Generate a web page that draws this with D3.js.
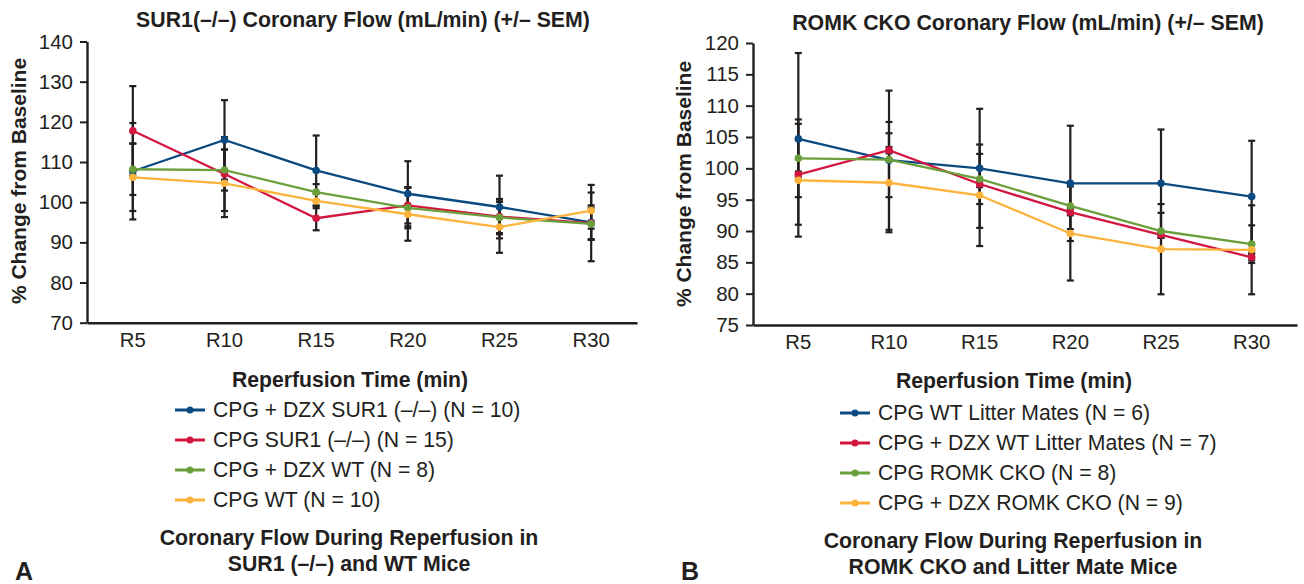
<!DOCTYPE html>
<html lang="en">
<head>
<meta charset="UTF-8">
<script src="https://cdn.jsdelivr.net/npm/d3@7/dist/d3.min.js"></script>
<title>coronary flow during reperfusion</title>
<style>
    body { margin: 0; background: #fff; }
    svg text { font-family: "Liberation Sans", Arial, sans-serif; fill: #231f20; }
    .domain { stroke: #231f20; stroke-width: 2.4px; }
    .tick line { stroke: #231f20; stroke-width: 2px; }
    .bold { font-weight: bold; }
</style>
</head>
<body>
<svg id="chart" width="1304" height="584"></svg>
<script>
// time points
const times = ["R5", "R10", "R15", "R20", "R25", "R30"];

// panel A: SUR1 (-/-) vs WT, % change from baseline and SEM
const sur1DzxKo = [107.7, 115.5, 107.9, 102.1, 98.8, 95.0];
const sur1DzxKoSem = [12.0, 9.9, 8.7, 8.1, 7.8, 4.2];
const sur1Ko = [117.8, 107.0, 96.0, 99.2, 96.4, 94.8];
const sur1KoSem = [11.1, 9.2, 3.0, 4.5, 4.4, 9.5];
const sur1DzxWt = [108.2, 108.0, 102.5, 98.6, 96.2, 94.6];
const sur1DzxWtSem = [6.4, 5.1, 2.0, 5.1, 3.9, 4.0];
const sur1Wt = [106.2, 104.7, 100.3, 97.0, 93.8, 97.9];
const sur1WtSem = [8.4, 8.4, 1.8, 6.6, 6.4, 4.5];
const sur1Names = ["CPG + DZX SUR1 (\u2013/\u2013) (N = 10)", "CPG SUR1 (\u2013/\u2013) (N = 15)",
    "CPG + DZX WT (N = 8)", "CPG WT (N = 10)"];
const sur1Ticks = [70, 80, 90, 100, 110, 120, 130, 140];

// panel B: ROMK CKO vs litter mates
const romkWt = [104.7, 101.3, 100.0, 97.6, 97.6, 95.5];
const romkWtSem = [13.7, 11.1, 9.5, 9.2, 8.6, 8.9];
const romkDzxWt = [99.0, 102.9, 97.5, 93.0, 89.4, 85.8];
const romkDzxWtSem = [0.5, 0.5, 0.5, 0.5, 0.5, 0.5];
const romkKo = [101.6, 101.4, 98.3, 94.0, 90.0, 87.9];
const romkKoSem = [6.2, 6.0, 4.0, 3.7, 2.9, 3.0];
const romkDzxKo = [98.1, 97.7, 95.7, 89.6, 87.1, 87.0];
const romkDzxKoSem = [9.0, 7.9, 8.1, 7.5, 7.2, 7.1];
const romkNames = ["CPG WT Litter Mates (N = 6)", "CPG + DZX WT Litter Mates (N = 7)",
    "CPG ROMK CKO (N = 8)", "CPG + DZX ROMK CKO (N = 9)"];
const romkTicks = [75, 80, 85, 90, 95, 100, 105, 110, 115, 120];

const colors = ["#0a4a80", "#d3163f", "#6b9f3c", "#fbb33d"];

const svg = d3.select("#chart");

function drawPanel(p) {
    const g = svg.append("g");
    const x = d3.scaleBand().domain(times).range([p.left, p.right]);
    const y = d3.scaleLinear().domain(d3.extent(p.ticks)).range([p.bottom, p.top]);
    const cx = d => x(d) + x.bandwidth() / 2;

    // axes
    g.append("g")
        .attr("transform", "translate(" + p.left + ",0)")
        .call(d3.axisLeft(y).tickValues(p.ticks).tickSize(7).tickSizeOuter(0).tickPadding(7))
        .call(a => a.selectAll("text").style("font-size", "20.5px"));
    g.append("g")
        .attr("transform", "translate(0," + p.bottom + ")")
        .call(d3.axisBottom(x).tickSize(0).tickPadding(10))
        .call(a => a.selectAll("text").style("font-size", "20.3px"));
    g.selectAll(".tick text").attr("fill", "#231f20");

    const series = p.values.map((v, i) => ({
        name: p.names[i], color: colors[i],
        pts: v.map((val, j) => ({t: times[j], v: val, e: p.sems[i][j]}))
    }));

    // error bars
    const bars = g.append("g").attr("stroke", "#231f20").attr("stroke-width", 2.2);
    series.forEach(s => {
        s.pts.forEach(d => {
            const xc = cx(d.t), y1 = y(d.v + d.e), y2 = y(d.v - d.e);
            bars.append("line").attr("x1", xc).attr("x2", xc).attr("y1", y1).attr("y2", y2);
            bars.append("line").attr("x1", xc - 3.5).attr("x2", xc + 3.5).attr("y1", y1).attr("y2", y1);
            bars.append("line").attr("x1", xc - 3.5).attr("x2", xc + 3.5).attr("y1", y2).attr("y2", y2);
        });
    });

    const line = d3.line().x(d => cx(d.t)).y(d => y(d.v));
    series.forEach(s => {
        g.append("path").datum(s.pts)
            .attr("fill", "none").attr("stroke", s.color).attr("stroke-width", 2.3)
            .attr("d", line);
        g.selectAll(null).data(s.pts).join("circle")
            .attr("cx", d => cx(d.t)).attr("cy", d => y(d.v))
            .attr("r", 3.8).attr("fill", s.color);
    });

    // titles
    g.append("text").attr("class", "bold")
        .attr("x", p.titleX).attr("y", p.titleY)
        .attr("text-anchor", "middle").style("font-size", "21.3px")
        .text(p.title);
    g.append("text").attr("class", "bold")
        .attr("transform", "translate(" + p.ylabX + "," + p.ylabY + ") rotate(-90)")
        .attr("text-anchor", "middle").style("font-size", "21px")
        .text("% Change from Baseline");
    g.append("text").attr("class", "bold")
        .attr("x", p.center).attr("y", p.xlabY)
        .attr("text-anchor", "middle").style("font-size", "21.2px")
        .text("Reperfusion Time (min)");

    // legend
    const leg = g.append("g");
    series.forEach((s, i) => {
        const ly = p.legY + i * 30;
        leg.append("line").attr("x1", p.legX).attr("x2", p.legX + 30)
            .attr("y1", ly).attr("y2", ly)
            .attr("stroke", s.color).attr("stroke-width", 3);
        leg.append("circle").attr("cx", p.legX + 15).attr("cy", ly).attr("r", 3.5).attr("fill", s.color);
        leg.append("text").attr("x", p.legX + 38).attr("y", ly).attr("dy", "0.35em")
            .style("font-size", "21.2px").text(s.name);
    });

    // caption
    p.caption.forEach((c, i) => {
        g.append("text").attr("class", "bold")
            .attr("x", p.center - 1).attr("y", p.capY + i * 25.5)
            .attr("text-anchor", "middle").style("font-size", "21.3px")
            .text(c);
    });
    g.append("text").attr("class", "bold")
        .attr("x", p.letterX).attr("y", 580)
        .style("font-size", "25px").text(p.letter);
}

drawPanel({
    left: 87, right: 637, top: 41.5, bottom: 322.7,
    ticks: sur1Ticks, names: sur1Names,
    values: [sur1DzxKo, sur1Ko, sur1DzxWt, sur1Wt],
    sems: [sur1DzxKoSem, sur1KoSem, sur1DzxWtSem, sur1WtSem],
    title: "SUR1(\u2013/\u2013) Coronary Flow (mL/min) (+/\u2013 SEM)", titleX: 363, titleY: 27,
    ylabX: 26, ylabY: 181, center: 350, xlabY: 387,
    legX: 175, legY: 410, capY: 545,
    caption: ["Coronary Flow During Reperfusion in", "SUR1 (\u2013/\u2013) and WT Mice"],
    letter: "A", letterX: 15
});

drawPanel({
    left: 753, right: 1297, top: 43, bottom: 325,
    ticks: romkTicks, names: romkNames,
    values: [romkWt, romkDzxWt, romkKo, romkDzxKo],
    sems: [romkWtSem, romkDzxWtSem, romkKoSem, romkDzxKoSem],
    title: "ROMK CKO Coronary Flow (mL/min) (+/\u2013 SEM)", titleX: 1028, titleY: 30,
    ylabX: 691, ylabY: 184, center: 1014, xlabY: 388,
    legX: 840, legY: 413, capY: 548,
    caption: ["Coronary Flow During Reperfusion in", "ROMK CKO and Litter Mate Mice"],
    letter: "B", letterX: 681
});
</script>
</body>
</html>
